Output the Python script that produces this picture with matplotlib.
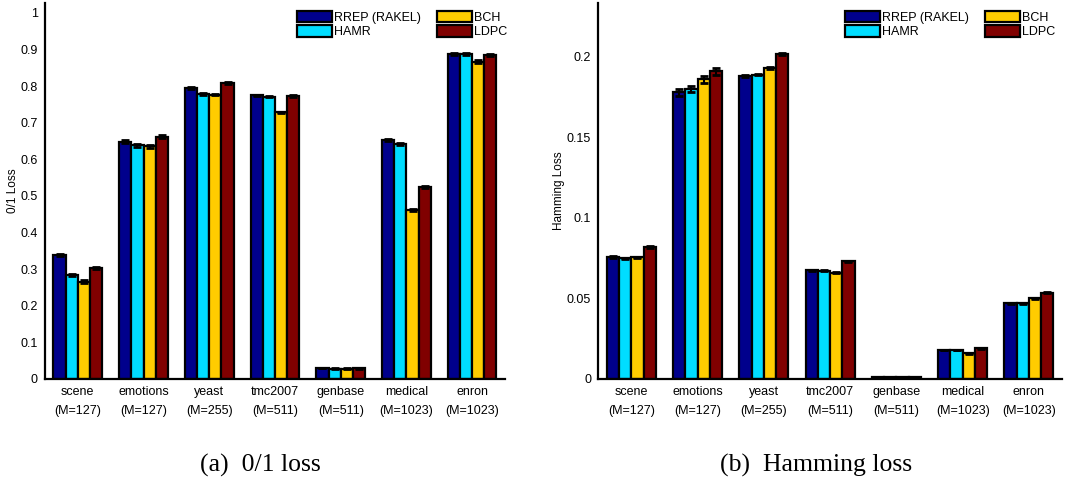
import numpy as np
import matplotlib
matplotlib.use('Agg')
import matplotlib.pyplot as plt

# datasets and methods
datasets = ['scene', 'emotions', 'yeast', 'tmc2007', 'genbase', 'medical', 'enron']
code_len = [127, 127, 255, 511, 511, 1023, 1023]
methods = ['RREP (RAKEL)', 'HAMR', 'BCH', 'LDPC']
colors = ['#00008C', '#00DDFF', '#FFCC00', '#800000']

# 0/1 loss per method (rows) and dataset (columns)
zero_one_rrep = [0.339, 0.648, 0.795, 0.775, 0.030, 0.652, 0.888]
zero_one_hamr = [0.285, 0.638, 0.778, 0.771, 0.028, 0.642, 0.887]
zero_one_bch = [0.266, 0.636, 0.777, 0.728, 0.028, 0.462, 0.867]
zero_one_ldpc = [0.304, 0.662, 0.808, 0.773, 0.029, 0.525, 0.884]
zero_one_err = [0.003, 0.004, 0.002, 0.002, 0.001, 0.003, 0.003]

# Hamming loss
ham_rrep = [0.0758, 0.178, 0.188, 0.0676, 0.0010, 0.0180, 0.0470]
ham_hamr = [0.0750, 0.180, 0.189, 0.0672, 0.0010, 0.0180, 0.0470]
ham_bch = [0.0755, 0.186, 0.193, 0.0660, 0.0010, 0.0160, 0.0500]
ham_ldpc = [0.0820, 0.191, 0.202, 0.0730, 0.0011, 0.0190, 0.0535]
ham_err_rrep = [0.0004, 0.0020, 0.0005, 0.0003, 0.0001, 0.0002, 0.0003]
ham_err_ldpc = [0.0004, 0.0022, 0.0006, 0.0003, 0.0001, 0.0003, 0.0003]

plt.rcParams['font.family'] = ['Liberation Sans', 'DejaVu Sans']

fig = plt.figure(figsize=(10.7, 4.79), dpi=100)
fig.patch.set_facecolor('white')

ax1 = fig.add_axes([0.042, 0.2088, 0.430, 0.785])
ax2 = fig.add_axes([0.559, 0.2088, 0.4336, 0.785])


def grouped_bars(ax, series, errs, ylim, yticks, ylabel):
    x = np.arange(1, len(datasets) + 1)
    w = 0.185
    for i, (vals, err) in enumerate(zip(series, errs)):
        ax.bar(x + (i - 1.5) * w, vals, w, yerr=err, color=colors[i],
               edgecolor='black', linewidth=1.6, label=methods[i],
               error_kw=dict(ecolor='black', elinewidth=1.5, capsize=3, capthick=2))
    ax.set_xlim(0.5, 7.5)
    ax.set_ylim(*ylim)
    ax.set_yticks(yticks)
    ax.set_yticklabels([('%g' % t) for t in yticks], fontsize=9)
    ax.set_xticks(x)
    ax.set_xticklabels(['%s\n(M=%d)' % (d, m) for d, m in zip(datasets, code_len)],
                       fontsize=9, linespacing=1.75)
    ax.tick_params(length=0, pad=5)
    ax.set_ylabel(ylabel, fontsize=8.5, labelpad=1.5)
    for s in ['top', 'right']:
        ax.spines[s].set_visible(False)
    for s in ['left', 'bottom']:
        ax.spines[s].set_linewidth(1.6)


grouped_bars(ax1, [zero_one_rrep, zero_one_hamr, zero_one_bch, zero_one_ldpc],
             [zero_one_err] * 4, (0, 1.027), np.arange(0, 1.01, 0.1), '0/1 Loss')
grouped_bars(ax2, [ham_rrep, ham_hamr, ham_bch, ham_ldpc],
             [ham_err_rrep, ham_err_rrep, ham_err_ldpc, ham_err_ldpc],
             (0, 0.2335), [0, 0.05, 0.1, 0.15, 0.2], 'Hamming Loss')

for ax, anchor in [(ax1, (297 / 1070, 1 - 11 / 479)), (ax2, (845 / 1070, 1 - 11 / 479))]:
    ax.legend(loc='upper left', bbox_to_anchor=anchor, bbox_transform=fig.transFigure,
              ncol=2, frameon=False, fontsize=9, handlelength=2.8, handleheight=1.0,
              handletextpad=0.15, labelspacing=0.12, columnspacing=1.3, borderpad=0,
              borderaxespad=0)

fig.text(260 / 1070, 1 - 465 / 479, '(a)  0/1 loss', family='Liberation Serif',
         fontsize=18.5, ha='center', va='center')
fig.text(816 / 1070, 1 - 465 / 479, '(b)  Hamming loss', family='Liberation Serif',
         fontsize=18.5, ha='center', va='center')

fig.savefig('out.png', dpi=100, facecolor='white')
